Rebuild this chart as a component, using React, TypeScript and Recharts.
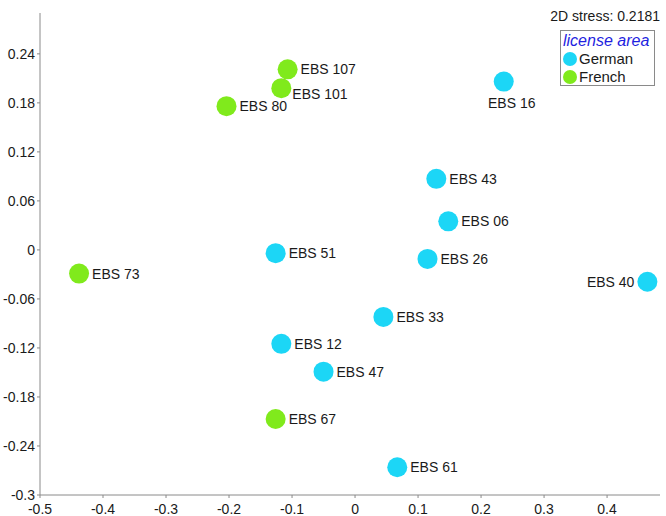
import React from "react";
import { ScatterChart, Scatter, XAxis, YAxis } from "recharts";

const germanNames = ["EBS 16", "EBS 43", "EBS 06", "EBS 51", "EBS 26", "EBS 40", "EBS 33", "EBS 12", "EBS 47", "EBS 61"];
const germanX = [0.236, 0.129, 0.148, -0.126, 0.115, 0.464, 0.045, -0.117, -0.05, 0.067];
const germanY = [0.206, 0.087, 0.035, -0.004, -0.011, -0.039, -0.082, -0.115, -0.149, -0.266];

const frenchNames = ["EBS 107", "EBS 101", "EBS 80", "EBS 73", "EBS 67"];
const frenchX = [-0.107, -0.117, -0.204, -0.438, -0.126];
const frenchY = [0.221, 0.198, 0.176, -0.029, -0.207];

const xTicks = [-0.5, -0.4, -0.3, -0.2, -0.1, 0, 0.1, 0.2, 0.3, 0.4];
const yTicks = [-0.3, -0.24, -0.18, -0.12, -0.06, 0, 0.06, 0.12, 0.18, 0.24];

const GERMAN = "#1cd6f6";
const FRENCH = "#80ea1c";
const FONT = "'Liberation Sans', Arial, sans-serif";

// label placement tweaks (default: right of the marker)
const labelPos: Record<string, { dx: number; dy: number; anchor: "start" | "middle" | "end" }> = {
  "EBS 16": { dx: 8, dy: 21, anchor: "middle" },
  "EBS 40": { dx: -13, dy: 0, anchor: "end" },
  "EBS 101": { dx: 11, dy: 6, anchor: "start" },
};

const german = germanNames.map((name, i) => ({ name, x: germanX[i], y: germanY[i] }));
const french = frenchNames.map((name, i) => ({ name, x: frenchX[i], y: frenchY[i] }));

const makeShape = (fill: string) => (props: any) => {
  const { cx, cy, payload } = props;
  const p = labelPos[payload.name] || { dx: 13, dy: 0, anchor: "start" };
  return (
    <g>
      <circle cx={cx} cy={cy} r={10} fill={fill} />
      <text
        x={cx + p.dx}
        y={cy + p.dy}
        textAnchor={p.anchor}
        dominantBaseline="central"
        fontSize={14}
        fontFamily={FONT}
        fill="#1a1a1a"
      >
        {payload.name}
      </text>
    </g>
  );
};

const fmt = (v: number) => (v === 0 ? "0" : String(v));

const XTick = (props: any) => {
  const { x, y, payload } = props;
  return (
    <text x={x} y={y + 14} textAnchor="middle" fontSize={14} fontFamily={FONT} fill="#1a1a1a">
      {fmt(payload.value)}
    </text>
  );
};

export default function App() {
  return (
    <div style={{ position: "absolute", left: 0, top: 0, width: 666, height: 516, background: "#fff" }}>
      <ScatterChart
        width={666}
        height={516}
        margin={{ top: 13, right: 6, left: 0, bottom: 0 }}
      >
        <XAxis
          type="number"
          dataKey="x"
          domain={[-0.5, 0.484]}
          ticks={xTicks}
          allowDataOverflow
          height={21}
          stroke="#8a8a8a"
          tickSize={3}
          tick={<XTick />}
        />
        <YAxis
          type="number"
          dataKey="y"
          domain={[-0.3, 0.29]}
          ticks={yTicks}
          tickFormatter={fmt}
          allowDataOverflow
          width={40}
          stroke="#8a8a8a"
          tickSize={3}
          tick={{ fontSize: 14, fill: "#1a1a1a", fontFamily: FONT }}
        />
        <Scatter name="German" data={german} shape={makeShape(GERMAN)} isAnimationActive={false} />
        <Scatter name="French" data={french} shape={makeShape(FRENCH)} isAnimationActive={false} />
      </ScatterChart>
      <div
        style={{
          position: "absolute",
          right: 6,
          top: 8,
          fontFamily: FONT,
          fontSize: 14,
          color: "#1a1a1a",
          whiteSpace: "nowrap",
        }}
      >
        2D stress: 0.2181
      </div>
      <div
        style={{
          position: "absolute",
          left: 560,
          top: 30,
          width: 95,
          height: 56,
          border: "1px solid #8a8a8a",
          fontFamily: FONT,
          fontSize: 15,
          lineHeight: "18px",
          color: "#1a1a1a",
          boxSizing: "border-box",
          padding: "1px 2px",
          whiteSpace: "nowrap",
        }}
      >
        <div style={{ fontStyle: "italic", color: "#1f1fe0", fontSize: 16 }}>license area</div>
        {[["German", GERMAN], ["French", FRENCH]].map(([n, c]) => (
          <div key={n} style={{ display: "flex", alignItems: "center" }}>
            <span style={{ display: "inline-block", width: 14, height: 14, borderRadius: 7, background: c, marginRight: 2 }} />
            {n}
          </div>
        ))}
      </div>
    </div>
  );
}
